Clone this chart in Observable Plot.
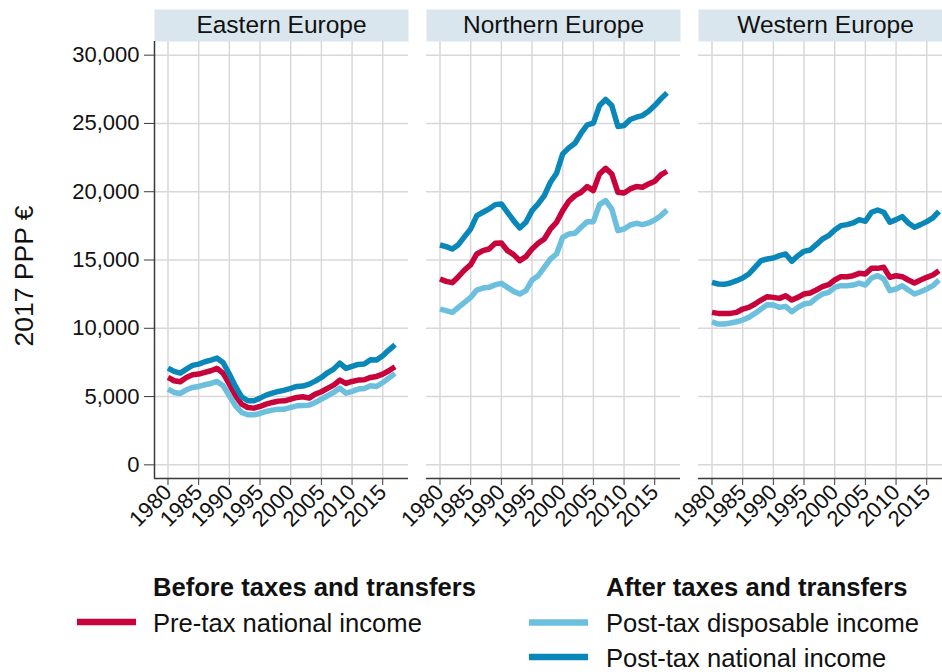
<!DOCTYPE html>
<html>
<head>
<meta charset="utf-8">
<script src="https://cdn.jsdelivr.net/npm/d3@7"></script>
<script src="https://cdn.jsdelivr.net/npm/@observablehq/plot@0.6"></script>
<style>
  html, body { margin: 0; padding: 0; background: #fff; overflow: hidden; }
  #wrap { position: relative; width: 942px; height: 672px; overflow: hidden; font-family: "Liberation Sans", Arial, Helvetica, sans-serif; }
  #chart { position: absolute; left: 0; top: 0; width: 952px; }
  #chart svg { max-width: none !important; }
  #overlay { position: absolute; left: 0; top: 0; pointer-events: none; }
</style>
</head>
<body>
<div id="wrap">
  <div id="chart"></div>
  <svg id="overlay" width="942" height="672"></svg>
</div>
<script>
// ---- data ----
const regions = ["Eastern Europe", "Northern Europe", "Western Europe"];
const seriesNames = ["Pre-tax national income", "Post-tax disposable income", "Post-tax national income"];
const seriesColors = ["#c8033c", "#6cbfdd", "#0a87b9"];
const years = d3.range(1980, 2018);
const xTicks = [1980, 1985, 1990, 1995, 2000, 2005, 2010, 2015];
const yTicks = [0, 5000, 10000, 15000, 20000, 25000, 30000];

// Eastern Europe
const eastPretax = [6400,6156,6083,6400,6596,6645,6767,6889,7060,6694, 5912,5057,4446,4202,4153,4275,4446,4568,4666,4690, 4813,4935,4984,4886,5179,5350,5594,5839,6205,5961, 6107,6205,6230,6400,6474,6645,6889,7182];
const eastDisp   = [5546,5301,5228,5497,5668,5741,5863,5961,6107,5790, 5057,4324,3836,3665,3665,3762,3909,4006,4080,4080, 4202,4324,4349,4373,4568,4813,5057,5301,5619,5252, 5375,5546,5594,5790,5741,6034,6352,6694];
const eastPosttax= [7085,6840,6718,7011,7280,7378,7549,7671,7818,7476, 6645,5741,4984,4690,4690,4886,5106,5252,5375,5472, 5594,5741,5765,5912,6132,6400,6742,7011,7451,7060, 7207,7353,7378,7695,7671,7988,8404,8795];
// Northern Europe
const northPretax = [13608,13437,13339,13779,14267,14658,15440,15684,15806,16221, 16246,15684,15391,14951,15244,15806,16221,16539,17272,17761, 18616,19300,19715,19960,20375,20082,21303,21718,21303,19960, 19911,20204,20375,20326,20570,20766,21230,21498];
const northDisp   = [11409,11287,11165,11531,11897,12264,12801,12948,12997,13192, 13290,12997,12704,12508,12752,13534,13852,14463,15073,15440, 16661,16905,16954,17394,17809,17809,19055,19348,18738,17150, 17272,17565,17687,17590,17712,17932,18249,18665];
const northPosttax= [16099,15977,15806,16124,16710,17272,18249,18494,18738,19055, 19104,18494,17883,17346,17761,18616,19104,19715,20692,21352, 22769,23209,23551,24284,24895,25017,26311,26751,26311,24772, 24845,25285,25456,25578,25896,26311,26800,27239];
// Western Europe
const westPretax = [11165,11091,11091,11091,11165,11409,11531,11775,12068,12313, 12264,12191,12386,12068,12264,12508,12581,12801,13045,13192, 13534,13779,13779,13852,14023,13974,14389,14389,14463,13730, 13852,13779,13534,13314,13534,13730,13901,14219];
const westDisp   = [10480,10309,10309,10383,10480,10603,10798,11091,11409,11726, 11702,11531,11604,11213,11531,11775,11848,12215,12508,12630, 12997,13119,13119,13168,13314,13168,13681,13852,13608,12752, 12875,13119,12801,12508,12679,12875,13119,13534];
const westPosttax= [13363,13241,13217,13314,13485,13681,13974,14463,14951,15073, 15147,15318,15440,14902,15318,15635,15733,16124,16539,16783, 17199,17516,17590,17712,17956,17834,18494,18665,18494,17761, 17956,18176,17712,17394,17590,17809,18078,18567];

const yTitle = "2017 PPP €";
const legendHeads = ["Before taxes and transfers", "After taxes and transfers"];

// ---- table ----
const table = [];
const bySeries = {
  "Eastern Europe": [eastPretax, eastDisp, eastPosttax],
  "Northern Europe": [northPretax, northDisp, northPosttax],
  "Western Europe": [westPretax, westDisp, westPosttax]
};
for (const r of regions) {
  bySeries[r].forEach((vals, si) => {
    vals.forEach((v, i) => table.push({region: r, series: seriesNames[si], year: years[i], value: v}));
  });
}

// ---- layout ----
const W = 952, H = 560;
const mTop = 41, mBottom = 82, mLeft = 154;
const panelH = H - mTop - mBottom;
const xDomain = [1977.8, 2019.2];
const yDomain = [-1000, 31000];
const font = '"Liberation Sans", Arial, Helvetica, sans-serif';

const chart = Plot.plot({
  width: W,
  height: H,
  marginTop: mTop,
  marginBottom: mBottom,
  marginLeft: mLeft,
  marginRight: 0,
  style: {fontFamily: font, fontSize: "22px", color: "#111", background: "transparent", maxWidth: "none"},
  fx: {domain: regions, paddingInner: 18 / 272, paddingOuter: 0, axis: null, label: null},
  x: {domain: xDomain, label: null},
  y: {domain: yDomain, label: null},
  color: {domain: seriesNames, range: seriesColors},
  marks: [
    Plot.frame({fill: "#d9e6ed", stroke: "none", insetTop: -32, insetBottom: panelH}),
    Plot.text(regions, {fx: d => d, text: d => d, frameAnchor: "top", dy: -16.5, lineAnchor: "middle", fontSize: 24.5, fill: "#111"}),
    Plot.gridX({ticks: xTicks, stroke: "#d8d8d8", strokeOpacity: 1, strokeWidth: 1.5}),
    Plot.gridY({ticks: yTicks, stroke: "#d8d8d8", strokeOpacity: 1, strokeWidth: 1.5}),
    Plot.ruleY([yDomain[0]], {stroke: "#3a3a3a", strokeWidth: 1.5}),
    Plot.ruleX([{x: xDomain[0], r: regions[0]}], {x: "x", fx: "r", stroke: "#3a3a3a", strokeWidth: 1.5}),
    Plot.axisY({ticks: yTicks, tickFormat: d3.format(","), tickSize: 10, tickPadding: 5, fontSize: 22, label: null, stroke: "#3a3a3a"}),
    Plot.axisX({ticks: xTicks, tickFormat: d => String(d), tickRotate: -45, tickSize: 7, tickPadding: 3, fontSize: 22, label: null, stroke: "#3a3a3a"}),
    Plot.lineY(table, {x: "year", y: "value", z: "series", stroke: "series", fx: "region", strokeWidth: 5.5, strokeLinejoin: "round", strokeLinecap: "butt"})
  ]
});
document.getElementById("chart").appendChild(chart);

// ---- overlay: y title and legend ----
const ov = d3.select("#overlay").style("font-family", font);
ov.append("text")
  .attr("transform", "translate(33,276) rotate(-90)")
  .attr("text-anchor", "middle")
  .attr("font-size", 26.5)
  .attr("fill", "#111")
  .text(yTitle);

const leg = ov.append("g");
leg.append("text").attr("x", 153).attr("y", 596).attr("font-size", 25.6).attr("font-weight", "bold").attr("fill", "#111").text(legendHeads[0]);
leg.append("text").attr("x", 606).attr("y", 596).attr("font-size", 25.6).attr("font-weight", "bold").attr("fill", "#111").text(legendHeads[1]);
const items = [
  {name: seriesNames[0], color: seriesColors[0], lx: 77, tx: 153, cy: 622},
  {name: seriesNames[1], color: seriesColors[1], lx: 529, tx: 606, cy: 622.5},
  {name: seriesNames[2], color: seriesColors[2], lx: 529, tx: 606, cy: 657}
];
for (const it of items) {
  leg.append("line").attr("x1", it.lx).attr("x2", it.lx + 59).attr("y1", it.cy).attr("y2", it.cy)
    .attr("stroke", it.color).attr("stroke-width", 6.5);
  leg.append("text").attr("x", it.tx).attr("y", it.cy + 9.5).attr("font-size", 25.6).attr("fill", "#111").text(it.name);
}
</script>
</body>
</html>
